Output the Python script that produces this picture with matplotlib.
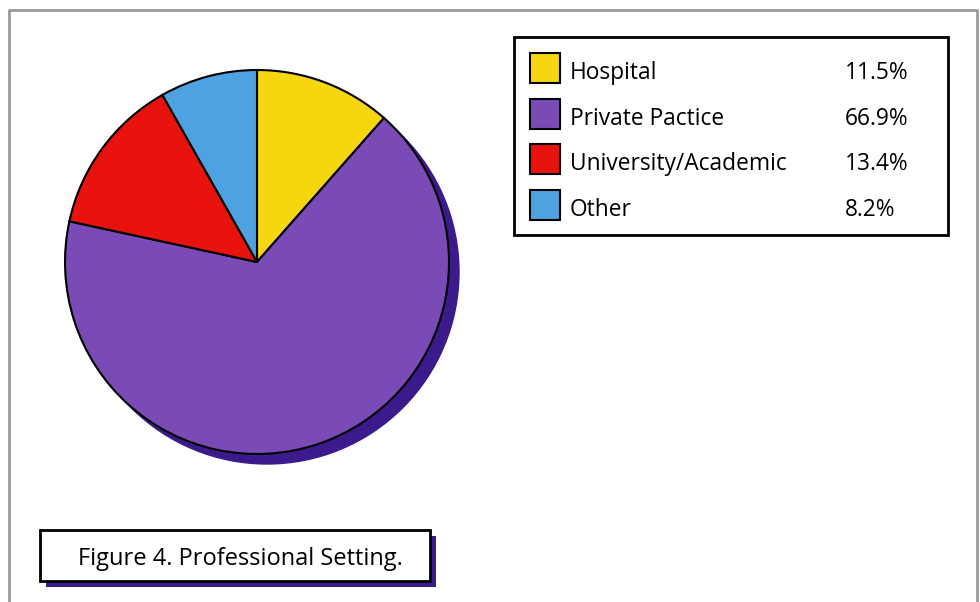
import matplotlib.pyplot as plt
from matplotlib.patches import Rectangle, Circle

# Datos del grafico
categorias = ['Hospital', 'Private Pactice', 'University/Academic', 'Other']
porcentajes = [11.5, 66.9, 13.4, 8.2]
colores = ['#f5d60f', '#7a4bb6', '#e8120f', '#4ea2e2']
titulo = 'Figure 4. Professional Setting.'

plt.rcParams['font.family'] = ['Open Sans', 'DejaVu Sans']

W, H = 980, 602
fig = plt.figure(figsize=(W / 100, H / 100), dpi=100)
ax = fig.add_axes([0, 0, 1, 1])

# Marco exterior gris
ax.plot([9, 9, 977, 977], [0, H - 10, H - 10, 0], color='#9a9a9a', lw=2)

# Pastel con sombra
cx, cy, r = 257, H - 262, 192
ax.add_patch(Circle((cx + 10, cy - 10), r, color='#3b1b8c', zorder=1))
ax.pie(porcentajes, colors=colores, startangle=90, counterclock=False,
       center=(cx, cy), radius=r, frame=True,
       wedgeprops=dict(edgecolor='black', linewidth=1.5, zorder=2))
ax.set_xlim(0, W)
ax.set_ylim(0, H)
ax.set_aspect('equal')
ax.axis('off')

# Leyenda
ax.add_patch(Rectangle((514, H - 235), 434, 198, facecolor='white',
                       edgecolor='black', lw=2, zorder=3))
for i, (cat, val, col) in enumerate(zip(categorias, porcentajes, colores)):
    y = H - (68 + i * 45.7)
    ax.add_patch(Rectangle((530, y - 15), 30, 30, facecolor=col,
                           edgecolor='black', lw=1.5, zorder=4))
    ax.text(570, y - 5, cat, fontsize=16.4, va='center', ha='left', zorder=5)
    ax.text(845, y - 5, f'{val:.1f}%', fontsize=16.4, va='center', ha='left', zorder=5)

# Titulo con sombra
ax.add_patch(Rectangle((46, H - 587), 390, 51, facecolor='#3b1b8c', zorder=3))
ax.add_patch(Rectangle((40, H - 581), 390, 51, facecolor='white',
                       edgecolor='black', lw=2, zorder=4))
ax.text(240, H - 559, titulo, fontsize=17, va='center', ha='center', zorder=5)

fig.savefig('out.png', dpi=100)
